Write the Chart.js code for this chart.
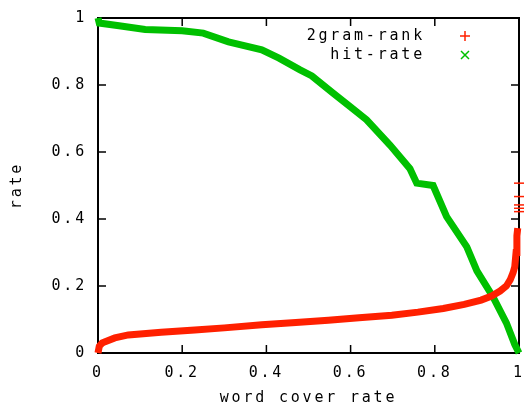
<!DOCTYPE html>
<html>
<head>
<meta charset="utf-8">
<script src="https://cdn.jsdelivr.net/npm/chart.js@4/dist/chart.umd.min.js"></script>
<style>
  html, body { margin: 0; padding: 0; background: #fff; }
  #wrap { width: 526px; height: 408px; }
</style>
</head>
<body>
<div id="wrap"><canvas id="chart"></canvas></div>
<script>
// data
const rankX = [0, 0.003, 0.01, 0.017, 0.04, 0.072, 0.15, 0.23, 0.3, 0.389, 0.47, 0.547, 0.62, 0.698, 0.76, 0.82, 0.87, 0.91, 0.935, 0.955, 0.97, 0.979, 0.986, 0.99, 0.993, 0.995, 0.997]
const rankY = [0, 0.02, 0.03, 0.034, 0.045, 0.054, 0.062, 0.069, 0.075, 0.084, 0.091, 0.098, 0.105, 0.113, 0.122, 0.133, 0.145, 0.158, 0.17, 0.185, 0.2, 0.218, 0.24, 0.258, 0.3, 0.35, 0.373]
const rankOutX = [1, 1, 1, 1, 1]
const rankOutY = [0.422, 0.432, 0.442, 0.467, 0.507]

const hitX = [0, 0.003, 0.05, 0.112, 0.2, 0.25, 0.31, 0.389, 0.43, 0.48, 0.508, 0.558, 0.6, 0.638, 0.694, 0.741, 0.757, 0.796, 0.828, 0.876, 0.9, 0.938, 0.97, 0.99, 1]
const hitY = [1, 0.985, 0.977, 0.966, 0.962, 0.955, 0.929, 0.905, 0.88, 0.845, 0.827, 0.776, 0.734, 0.696, 0.62, 0.55, 0.507, 0.5, 0.407, 0.317, 0.245, 0.168, 0.09, 0.025, 0]

const xTicks = [0, 0.2, 0.4, 0.6, 0.8, 1]
const yTicks = [0, 0.2, 0.4, 0.6, 0.8, 1]

const red = '#ff2000'
const green = '#00c000'
const monoFont = { family: "'DejaVu Sans Mono', monospace", size: 15 }

const toPoints = (xs, ys) => xs.map((x, i) => ({ x: x, y: ys[i] }))
const tickText = (v) => String(Math.round(v * 10) / 10)

// gnuplot style frame with inward ticks + legend on the right
const gnuFrame = {
    id: 'gnuFrame',
    beforeDraw(chart) {
        chart.ctx.letterSpacing = '2.8px'
    },
    beforeDatasetsDraw(chart) {
        const { ctx, chartArea: a, scales: { x, y } } = chart
        ctx.save()
        ctx.strokeStyle = '#000'
        ctx.lineWidth = 2
        ctx.strokeRect(a.left, a.top, a.right - a.left, a.bottom - a.top)
        ctx.lineWidth = 1.5
        ctx.beginPath()
        xTicks.forEach((v) => {
            const px = x.getPixelForValue(v)
            ctx.moveTo(px, a.bottom); ctx.lineTo(px, a.bottom - 8)
            ctx.moveTo(px, a.top); ctx.lineTo(px, a.top + 8)
        })
        yTicks.forEach((v) => {
            const py = y.getPixelForValue(v)
            ctx.moveTo(a.left, py); ctx.lineTo(a.left + 8, py)
            ctx.moveTo(a.right, py); ctx.lineTo(a.right - 8, py)
        })
        ctx.stroke()
        ctx.restore()
    },
    afterDraw(chart) {
        const ctx = chart.ctx
        const rows = [
            { label: chart.data.datasets[0].label, y: 36, color: red, mark: '+' },
            { label: chart.data.datasets[2].label, y: 55, color: green, mark: 'x' },
        ]
        ctx.save()
        ctx.font = '15px ' + monoFont.family
        ctx.fillStyle = '#000'
        ctx.textAlign = 'right'
        ctx.textBaseline = 'middle'
        rows.forEach((r) => {
            ctx.fillText(r.label, 425, r.y)
            ctx.strokeStyle = r.color
            ctx.lineWidth = 1.5
            ctx.beginPath()
            if (r.mark === '+') {
                ctx.moveTo(460, r.y); ctx.lineTo(470, r.y)
                ctx.moveTo(465, r.y - 5); ctx.lineTo(465, r.y + 5)
            } else {
                ctx.moveTo(461, r.y - 4); ctx.lineTo(469, r.y + 4)
                ctx.moveTo(469, r.y - 4); ctx.lineTo(461, r.y + 4)
            }
            ctx.stroke()
        })
        ctx.restore()
    }
}

const ctx = document.getElementById('chart').getContext('2d')
new Chart(ctx, {
    type: 'scatter',
    data: {
        datasets: [
            {
                label: '2gram-rank',
                data: toPoints(rankX, rankY),
                showLine: true,
                borderColor: red,
                backgroundColor: red,
                borderWidth: 7,
                pointRadius: 0,
                clip: 10,
            },
            {
                label: '2gram-rank',
                data: toPoints(rankOutX, rankOutY),
                showLine: false,
                borderColor: red,
                backgroundColor: red,
                pointStyle: 'line',
                pointRadius: 5,
                pointBorderWidth: 1.5,
                clip: 10,
            },
            {
                label: 'hit-rate',
                data: toPoints(hitX, hitY),
                showLine: true,
                borderColor: green,
                backgroundColor: green,
                borderWidth: 7,
                pointRadius: 0,
                clip: 10,
            },
        ]
    },
    options: {
        responsive: true,
        maintainAspectRatio: false,
        animation: false,
        layout: { padding: { left: 0, right: 7, top: 18, bottom: 0 } },
        plugins: {
            legend: { display: false },
            tooltip: { enabled: false },
        },
        scales: {
            x: {
                type: 'linear',
                min: 0,
                max: 1,
                afterFit: (scale) => {
                    scale.height = 55
                    scale.paddingLeft = 0
                    scale.paddingRight = 0
                },
                grid: { display: false, drawTicks: false },
                border: { display: false },
                ticks: { stepSize: 0.2, color: '#000', font: monoFont, padding: 11, maxRotation: 0, callback: tickText },
                title: { display: true, text: 'word cover rate', color: '#000', font: monoFont, padding: { top: 0, bottom: 1 } },
            },
            y: {
                type: 'linear',
                min: 0,
                max: 1,
                afterFit: (scale) => {
                    scale.width = 98
                    scale.paddingTop = 0
                    scale.paddingBottom = 0
                },
                grid: { display: false, drawTicks: false },
                border: { display: false },
                ticks: { stepSize: 0.2, color: '#000', font: monoFont, padding: 11, callback: tickText },
                title: { display: true, text: 'rate', color: '#000', font: monoFont, padding: { top: 8, bottom: 0 } },
            }
        }
    },
    plugins: [gnuFrame]
})
</script>
</body>
</html>
